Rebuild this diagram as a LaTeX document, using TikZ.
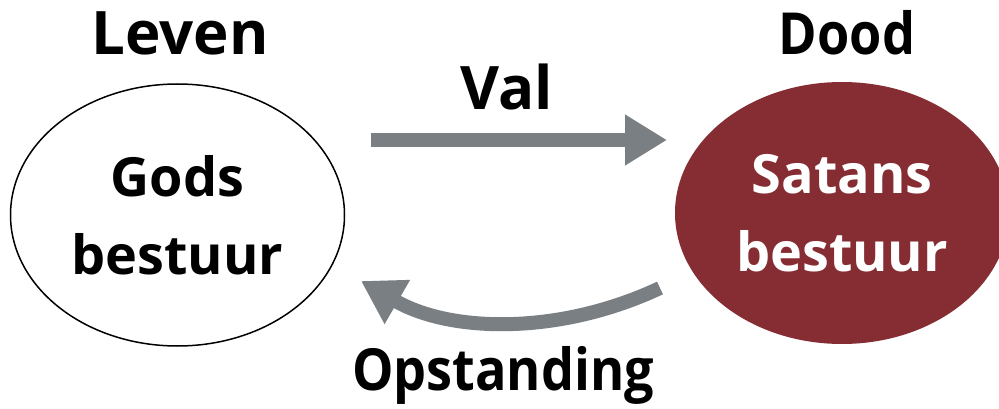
\documentclass[tikz,border=0pt]{standalone}
\usepackage{fontspec}
\setmainfont{Open Sans}
\newfontfamily\condfont[FakeStretch=0.9]{Open Sans}
\usetikzlibrary{shapes.geometric,arrows.meta}
\definecolor{arrowgrey}{RGB}{122,127,131}
\definecolor{satanred}{RGB}{134,45,51}
\tikzset{
  label text/.style={font=\bfseries\fontsize{60}{60}\selectfont, anchor=base, inner sep=0pt},
  oval/.style={ellipse, minimum width=334pt, minimum height=262pt, inner sep=0pt, align=center,
               font=\bfseries\fontsize{54}{78}\selectfont},
  fat arrow/.style={draw=arrowgrey, line width=14pt, -{Triangle[length=42pt 0 0, width=48pt 0 0]}}
}
\begin{document}
\begin{tikzpicture}[x=1pt,y=-1pt]
\useasboundingbox (0,0) rectangle (999,409);
\clip (0,0) rectangle (999,409);
\fill[white] (0,0) rectangle (999,409);
\node[oval, draw=black, line width=1.5pt] (gods) at (177.5,215) {Gods\\bestuur};
\node[oval, fill=satanred, text=white] (satan) at (842,213) {Satans\\bestuur};
\node[label text] (leven) at (180,55) {Leven};
\node[label text, font=\bfseries\fontsize{58}{58}\selectfont\condfont] (dood) at (847,55) {Dood};
\node[label text] (val) at (507,110) {Val};
\node[label text, font=\condfont\bfseries\fontsize{58}{58}\selectfont] (opst) at (503,390) {Opstanding};
\coordinate (valS) at (371,140);
\coordinate (valE) at (667,140);
\coordinate (opS) at (660,288);
\coordinate (opE) at (361,281);
\draw[fat arrow] (valS) -- (valE);
\draw[fat arrow] (opS) .. controls (560,335) and (451,333) .. (opE);
\end{tikzpicture}
\end{document}
